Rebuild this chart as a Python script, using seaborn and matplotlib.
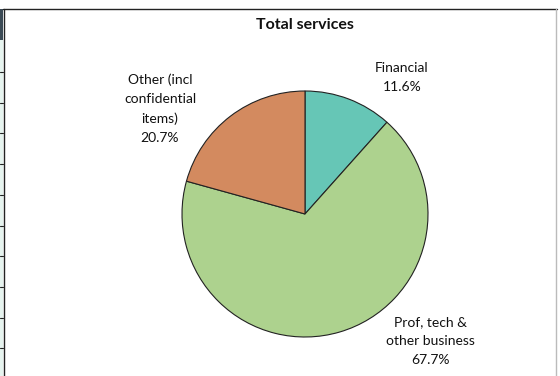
import matplotlib
matplotlib.use("Agg")
import matplotlib.pyplot as plt
import seaborn as sns
from matplotlib.patches import Rectangle
from matplotlib.lines import Line2D

categories = ["Financial", "Prof, tech &\nother business", "Other (incl\nconfidential\nitems)"]
values = [11.6, 67.7, 20.7]
colors = ["#66C6B6", "#ADD28E", "#D38A5F"]
title = "Total services"

sns.set_theme(style="white")
plt.rcParams["font.family"] = ["Lato", "DejaVu Sans"]

W, H = 560, 376
fig = plt.figure(figsize=(W / 100, H / 100), dpi=100)
fig.patch.set_facecolor("white")

def fx(px):
    return px / W

def fy(py):
    return 1 - py / H

# spreadsheet remnants on the left edge
fig.patches.append(Rectangle((0, 0), fx(3), fy(9), transform=fig.transFigure,
                             facecolor="#E6F4EF", edgecolor="none", zorder=0))
fig.patches.append(Rectangle((0, fy(40)), fx(3), fy(9) - fy(40), transform=fig.transFigure,
                             facecolor="#3B4A55", edgecolor="none", zorder=1))
for yy in [72, 103, 133, 164, 195, 226, 256, 287, 318, 348]:
    fig.lines.append(Line2D([0, fx(3)], [fy(yy), fy(yy)], transform=fig.transFigure,
                            color="#222222", lw=0.8))
# chart frame
fig.lines.append(Line2D([fx(3), fx(557)], [fy(9), fy(9)], transform=fig.transFigure,
                        color="#222222", lw=1.0))
fig.lines.append(Line2D([fx(3.5), fx(3.5)], [fy(9), 0], transform=fig.transFigure,
                        color="#222222", lw=1.0))
fig.lines.append(Line2D([fx(556), fx(556)], [fy(9), 0], transform=fig.transFigure,
                        color="#BBBBBB", lw=1.0))

cx, cy, r = 305, 214, 123
ax = fig.add_axes([fx(cx - r), fy(cy + r), 2 * r / W, 2 * r / H])
ax.pie(values, colors=colors, startangle=90, counterclock=False, radius=1,
       wedgeprops=dict(edgecolor="#222222", linewidth=0.8))
ax.set_xlim(-1, 1)
ax.set_ylim(-1, 1)
ax.set_aspect("equal")
ax.axis("off")

label_pos = [(402, 77), (430, 341), (160, 109)]
for cat, val, (lx, ly) in zip(categories, values, label_pos):
    ax.text((lx - cx) / r, (cy - ly) / r, f"{cat}\n{val:.1f}%", ha="center", va="center",
            fontsize=10, color="#111111", linespacing=1.7, clip_on=False)

fig.text(fx(305), fy(25), title, ha="center", va="center", fontsize=11.5,
         fontweight="bold", color="#111111")

fig.savefig("out.png", dpi=100)
